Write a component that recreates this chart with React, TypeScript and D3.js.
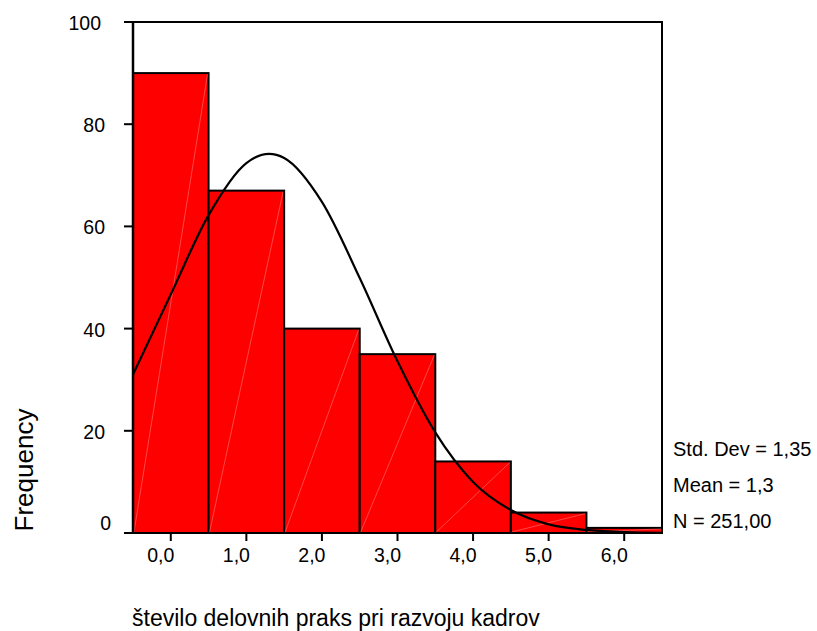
import React, { useRef, useEffect } from "react";
import * as d3 from "d3";

// histogram bins (class midpoints) and frequencies
const binCenters = [0, 1, 2, 3, 4, 5, 6];
const frequencies = [90, 67, 40, 35, 14, 4, 1];

// normal curve
const curveX = [-0.5, 0, 0.5, 1, 1.3, 1.5, 2, 2.5, 3, 3.5, 4, 4.5, 5, 5.5, 6, 6.5];
const curveY = [31, 46.7, 62.2, 72.4, 74.2, 73.4, 64.8, 49.9, 33.6, 19.7, 10, 4.5, 1.7, 0.6, 0.2, 0.05];

const yTicks = [0, 20, 40, 60, 80, 100];
const xTickLabels = ["0,0", "1,0", "2,0", "3,0", "4,0", "5,0", "6,0"];
const statLines = ["Std. Dev = 1,35", "Mean = 1,3", "N = 251,00"];

const App: React.FC = () => {
  const svgRef = useRef<SVGSVGElement | null>(null);
  const width = 817;
  const height = 631;

  useEffect(() => {
    if (!svgRef.current) return;
    const svg = d3.select(svgRef.current);
    svg.selectAll("*").remove();

    const font = "Liberation Sans, Arial, sans-serif";
    const left = 133;
    const right = 662;
    const top = 22;
    const bottom = 533;

    const x = d3.scaleLinear().domain([-0.5, 6.5]).range([left, right]);
    const y = d3.scaleLinear().domain([0, 100]).range([bottom, top]);

    // bars
    const bars = svg.append("g");
    binCenters.forEach((c, i) => {
      const x0 = x(c - 0.5);
      const x1 = x(c + 0.5);
      const yTop = y(frequencies[i]);
      bars
        .append("rect")
        .attr("x", x0)
        .attr("y", yTop)
        .attr("width", x1 - x0)
        .attr("height", bottom - yTop)
        .attr("fill", "#ff0000")
        .attr("stroke", "#000")
        .attr("stroke-width", 2);
      // faint diagonal seam
      bars
        .append("line")
        .attr("x1", x0 + 1)
        .attr("y1", bottom - 1)
        .attr("x2", x1 - 1)
        .attr("y2", yTop + 1)
        .attr("stroke", "#ffffff")
        .attr("stroke-opacity", 0.35)
        .attr("stroke-width", 0.8);
    });

    // normal curve
    const line = d3
      .line<number>()
      .x((_, i) => x(curveX[i]))
      .y((d) => y(d))
      .curve(d3.curveMonotoneX);
    svg
      .append("path")
      .datum(curveY)
      .attr("fill", "none")
      .attr("stroke", "#000")
      .attr("stroke-width", 2.2)
      .attr("d", line);

    // frame
    svg
      .append("path")
      .attr("d", `M${left - 9},${top}H${right}V${bottom}H${left - 9}`)
      .attr("fill", "none")
      .attr("stroke", "#000")
      .attr("stroke-width", 2);
    svg
      .append("line")
      .attr("x1", left)
      .attr("x2", left)
      .attr("y1", top)
      .attr("y2", bottom)
      .attr("stroke", "#000")
      .attr("stroke-width", 2.5);

    // y ticks
    yTicks.forEach((t) => {
      svg
        .append("line")
        .attr("x1", left - 9)
        .attr("x2", left)
        .attr("y1", y(t))
        .attr("y2", y(t))
        .attr("stroke", "#000")
        .attr("stroke-width", 2);
      svg
        .append("text")
        .attr("x", t === 0 ? 111 : t === 100 ? 101 : 105)
        .attr("y", t === 0 ? y(t) - 3 : y(t) + 8)
        .attr("text-anchor", "end")
        .attr("font-family", font)
        .attr("font-size", 19.5)
        .attr("fill", "#000")
        .text(t);
    });

    // x ticks
    binCenters.forEach((c, i) => {
      svg
        .append("line")
        .attr("x1", x(c))
        .attr("x2", x(c))
        .attr("y1", bottom)
        .attr("y2", bottom + 8)
        .attr("stroke", "#000")
        .attr("stroke-width", 2);
      svg
        .append("text")
        .attr("x", x(c) - 10)
        .attr("y", 562)
        .attr("text-anchor", "middle")
        .attr("font-family", font)
        .attr("font-size", 19.5)
        .attr("fill", "#000")
        .text(xTickLabels[i]);
    });

    // stats
    statLines.forEach((s, i) => {
      svg
        .append("text")
        .attr("x", 673)
        .attr("y", 456 + i * 36)
        .attr("font-family", font)
        .attr("font-size", 20)
        .attr("fill", "#000")
        .text(s);
    });

    // axis titles
    svg
      .append("text")
      .attr("transform", `translate(33,470) rotate(-90)`)
      .attr("text-anchor", "middle")
      .attr("font-family", font)
      .attr("font-size", 26)
      .attr("fill", "#000")
      .text("Frequency");

    svg
      .append("text")
      .attr("x", 132)
      .attr("y", 626)
      .attr("font-family", font)
      .attr("font-size", 23)
      .attr("fill", "#000")
      .text("število delovnih praks pri razvoju kadrov");
  }, []);

  return (
    <div style={{ position: "absolute", left: 0, top: 0 }}>
      <svg ref={svgRef} width={width} height={height} style={{ display: "block", background: "#fff" }} />
    </div>
  );
};

export default App;
